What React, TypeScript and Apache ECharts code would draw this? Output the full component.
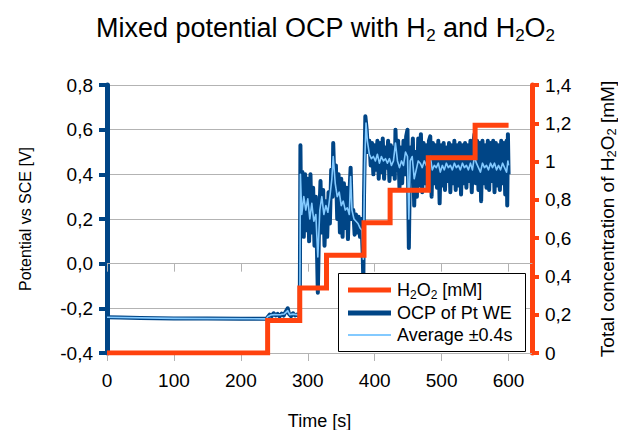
import React, { useEffect, useRef } from "react";
import * as echarts from "echarts";

const FONT = '"Liberation Sans", Arial, Helvetica, sans-serif';

// Axis ticks
const xTicks = [0, 100, 200, 300, 400, 500, 600];

// H2O2 additions (time [s] -> total concentration [mM])
const h2o2Time = [0, 240, 288, 328, 384, 423, 480, 550, 600];
const h2o2Conc = [0, 0.17, 0.34, 0.51, 0.68, 0.85, 1.02, 1.19, 1.19];

// OCP of Pt WE [time s, potential V]
const ocpPoints: [number, number][] = [
  [0, -0.24], [20, -0.241], [50, -0.243], [100, -0.245], [150, -0.246], [200, -0.247], [238, -0.247],
  [240, -0.24], [243, -0.228], [246, -0.235], [249, -0.222], [252, -0.232], [255, -0.225], [258, -0.236],
  [261, -0.224], [264, -0.233], [267, -0.215], [270, -0.2], [272, -0.225], [275, -0.235], [278, -0.222],
  [281, -0.232], [284, -0.228], [287, -0.235], [288, -0.23],
  [289, 0.53], [290, 0.2], [292, 0.41], [294, 0.12], [296, 0.4], [298, 0.15], [300, 0.38], [302, 0.1],
  [304, 0.4], [306, 0.14], [308, 0.34], [310, 0.08], [312, 0.3], [314, 0.02], [315, -0.13], [317, 0.2],
  [319, 0.37], [321, 0.14], [323, 0.33], [325, 0.08], [327, 0.28], [329, 0.12], [331, 0.32], [333, 0.18],
  [335, 0.42], [337, 0.3], [338, 0.54], [340, 0.34], [342, 0.44], [344, 0.2], [346, 0.4], [348, 0.14],
  [350, 0.38], [352, 0.12], [354, 0.36], [356, 0.16], [358, 0.34], [360, 0.11], [362, 0.3], [364, 0.43],
  [366, 0.2], [368, 0.24], [370, 0.13], [372, 0.22], [374, 0.14], [376, 0.21], [378, 0.12], [380, 0.2],
  [382, 0.05], [383, -0.08], [384, 0.3], [386, 0.66], [388, 0.6], [390, 0.5], [392, 0.55], [394, 0.44],
  [396, 0.54], [398, 0.4], [400, 0.53], [402, 0.42], [404, 0.55], [406, 0.38], [408, 0.54], [410, 0.41],
  [412, 0.56], [414, 0.38], [416, 0.52], [418, 0.43], [420, 0.55], [422, 0.37], [424, 0.53], [426, 0.4],
  [428, 0.52], [430, 0.38], [431, 0.6], [433, 0.42], [435, 0.55], [437, 0.34], [439, 0.52], [441, 0.36],
  [443, 0.55], [445, 0.4], [447, 0.57], [449, 0.6], [451, 0.07], [453, 0.52], [455, 0.42], [457, 0.56],
  [459, 0.26], [461, 0.5], [463, 0.3], [465, 0.56], [467, 0.35], [469, 0.58], [471, 0.32], [473, 0.54],
  [475, 0.36], [477, 0.53], [479, 0.33], [481, 0.55], [483, 0.57], [485, 0.3], [487, 0.54], [489, 0.36],
  [491, 0.53], [493, 0.34], [495, 0.55], [497, 0.27], [499, 0.53], [501, 0.35], [503, 0.54], [505, 0.33],
  [507, 0.52], [509, 0.37], [511, 0.54], [513, 0.32], [515, 0.53], [517, 0.36], [519, 0.55], [521, 0.33],
  [523, 0.53], [525, 0.35], [527, 0.54], [529, 0.31], [531, 0.53], [533, 0.36], [535, 0.54], [537, 0.34],
  [539, 0.53], [541, 0.37], [543, 0.55], [545, 0.32], [547, 0.53], [549, 0.58], [551, 0.36], [553, 0.55],
  [555, 0.33], [557, 0.54], [559, 0.28], [561, 0.55], [563, 0.36], [565, 0.53], [567, 0.34], [569, 0.55],
  [571, 0.33], [573, 0.54], [575, 0.37], [577, 0.55], [579, 0.32], [581, 0.54], [583, 0.35], [585, 0.53],
  [587, 0.33], [589, 0.55], [591, 0.36], [593, 0.54], [595, 0.31], [597, 0.55], [598, 0.26], [599, 0.58],
  [600, 0.4],
];

// Moving average ±0.4 s [time s, potential V]
const avgPoints: [number, number][] = [
  [0, -0.24], [100, -0.245], [238, -0.247],
  [240, -0.238], [245, -0.23], [250, -0.228], [255, -0.229], [260, -0.228], [265, -0.225], [270, -0.21],
  [273, -0.228], [278, -0.226], [283, -0.228], [287, -0.23], [288, -0.22],
  [289, 0.4], [291, 0.22], [294, 0.3], [297, 0.24], [300, 0.29], [303, 0.2], [306, 0.27], [309, 0.19],
  [312, 0.22], [315, 0.03], [318, 0.24], [321, 0.3], [324, 0.22], [327, 0.26], [330, 0.23], [333, 0.3],
  [336, 0.38], [338, 0.48], [341, 0.36], [344, 0.3], [347, 0.32], [350, 0.26], [353, 0.28], [356, 0.24],
  [359, 0.25], [362, 0.22], [364, 0.39], [366, 0.24], [369, 0.2], [372, 0.19], [375, 0.18], [378, 0.16],
  [381, 0.15], [383, 0.02], [385, 0.45], [387, 0.63], [389, 0.55], [392, 0.49], [395, 0.47], [398, 0.48],
  [401, 0.46], [404, 0.49], [407, 0.45], [410, 0.48], [413, 0.46], [416, 0.47], [419, 0.45], [422, 0.47],
  [425, 0.44], [428, 0.46], [431, 0.54], [434, 0.46], [437, 0.43], [440, 0.46], [443, 0.44], [446, 0.5],
  [449, 0.48], [451, 0.2], [453, 0.46], [456, 0.48], [459, 0.38], [462, 0.42], [465, 0.46], [468, 0.45],
  [471, 0.43], [474, 0.46], [477, 0.44], [480, 0.43], [483, 0.48], [486, 0.42], [489, 0.44], [492, 0.43],
  [495, 0.45], [498, 0.41], [501, 0.44], [504, 0.42], [507, 0.45], [510, 0.43], [513, 0.44], [516, 0.42],
  [519, 0.45], [522, 0.43], [525, 0.44], [528, 0.42], [531, 0.45], [534, 0.43], [537, 0.44], [540, 0.42],
  [543, 0.45], [546, 0.42], [549, 0.48], [552, 0.45], [555, 0.43], [558, 0.41], [561, 0.45], [564, 0.43],
  [567, 0.44], [570, 0.42], [573, 0.45], [576, 0.43], [579, 0.45], [582, 0.42], [585, 0.44], [588, 0.42],
  [591, 0.45], [594, 0.43], [597, 0.41], [599, 0.46], [600, 0.44],
];

const COLORS = { orange: "#ff420e", dark: "#004586", light: "#83caff", grid: "#b3b3b3" };

export default function App() {
  const ref = useRef<HTMLDivElement>(null);

  useEffect(() => {
    document.body.style.margin = "0";
    if (!ref.current) return;
    const chart = echarts.init(ref.current, undefined, { renderer: "svg" });

    const h2o2Data = h2o2Time.map((t, i) => [t, h2o2Conc[i]]);
    const xFmt = (v: number) => (v % 100 === 0 ? String(v) : "");
    const leftFmt = (v: number) => (Math.abs(v) < 1e-9 ? "0,0" : v.toFixed(1).replace(".", ","));
    const rightFmt = (v: number) => String(Math.round(v * 10) / 10).replace(".", ",");

    const xAxisBase = {
      type: "value",
      min: 0,
      max: 635,
      interval: 100,
      position: "bottom",
      splitLine: { show: false },
    };

    const option: any = {
      animation: false,
      backgroundColor: "#ffffff",
      title: {
        text: "Mixed potential OCP with H{s|2} and H{s|2}O{s|2}",
        left: 96,
        top: 11,
        padding: 0,
        textStyle: {
          fontFamily: FONT,
          fontSize: 27,
          fontWeight: "normal",
          color: "#000",
          lineHeight: 33,
          rich: {
            s: { fontFamily: FONT, fontSize: 17, lineHeight: 17, padding: [15, 0, 0, 0], color: "#000" },
          },
        },
      },
      grid: { left: 107, right: 86, top: 85, bottom: 77, containLabel: false, outerBoundsMode: "none" },
      xAxis: [
        {
          ...xAxisBase,
          axisLine: { show: true, onZero: false, lineStyle: { color: COLORS.grid, width: 1 } },
          axisTick: { show: true, length: 8, lineStyle: { color: COLORS.grid, width: 1 }, customValues: xTicks },
          axisLabel: {
            customValues: xTicks,
            formatter: xFmt,
            fontFamily: FONT,
            fontSize: 19,
            color: "#000",
            margin: 18,
          },
          name: "Time [s]",
          nameLocation: "middle",
          nameGap: 59,
          nameTextStyle: { fontFamily: FONT, fontSize: 18, color: "#000" },
        },
        {
          ...xAxisBase,
          axisLine: { show: true, onZero: true, onZeroAxisIndex: 0, lineStyle: { color: COLORS.grid, width: 1 } },
          axisTick: { show: true, length: 8, lineStyle: { color: COLORS.grid, width: 1 }, customValues: xTicks },
          axisLabel: { show: false },
        },
      ],
      yAxis: [
        {
          type: "value",
          min: -0.4,
          max: 0.8,
          interval: 0.2,
          position: "left",
          axisLine: { show: true, onZero: false, lineStyle: { color: COLORS.dark, width: 5 } },
          axisTick: { show: true, length: 8, lineStyle: { color: COLORS.dark, width: 4 } },
          axisLabel: { formatter: leftFmt, fontFamily: FONT, fontSize: 19, color: "#000", margin: 14 },
          splitLine: { show: true, lineStyle: { color: COLORS.grid, width: 1 } },
          name: "Potential vs SCE [V]",
          nameLocation: "middle",
          nameGap: 74,
          nameTextStyle: { fontFamily: FONT, fontSize: 16, color: "#000" },
        },
        {
          type: "value",
          min: 0,
          max: 1.4,
          interval: 0.2,
          position: "right",
          axisLine: { show: true, onZero: false, lineStyle: { color: COLORS.orange, width: 5 } },
          axisTick: { show: true, length: 7, lineStyle: { color: COLORS.orange, width: 4 } },
          axisLabel: { formatter: rightFmt, fontFamily: FONT, fontSize: 19, color: "#000", margin: 13 },
          splitLine: { show: false },
          name: "Total concentration of H{s|2}O{s|2} [mM]",
          nameLocation: "middle",
          nameGap: 66,
          nameTextStyle: {
            fontFamily: FONT,
            fontSize: 19,
            lineHeight: 19,
            color: "#000",
            rich: { s: { fontFamily: FONT, fontSize: 13, lineHeight: 11, padding: [8, 0, 0, 0], color: "#000" } },
          },
        },
      ],
      series: [
        {
          name: "OCP of Pt WE",
          type: "line",
          xAxisIndex: 0,
          yAxisIndex: 0,
          data: ocpPoints,
          showSymbol: false,
          symbol: "none",
          lineStyle: { color: COLORS.dark, width: 4, join: "round" },
          z: 2,
        },
        {
          name: "Average ±0.4s",
          type: "line",
          xAxisIndex: 0,
          yAxisIndex: 0,
          data: avgPoints,
          showSymbol: false,
          symbol: "none",
          lineStyle: { color: COLORS.light, width: 1.6, join: "round" },
          z: 3,
        },
        {
          name: "H2O2 [mM]",
          type: "line",
          xAxisIndex: 0,
          yAxisIndex: 1,
          data: h2o2Data,
          step: "end",
          showSymbol: false,
          symbol: "none",
          lineStyle: { color: COLORS.orange, width: 5, join: "miter" },
          z: 4,
        },
      ],
      graphic: [
        {
          type: "rect",
          z: 100,
          shape: { x: 338.5, y: 273.5, width: 187, height: 78 },
          style: { fill: "#fff", stroke: "#000", lineWidth: 1 },
        },
        {
          type: "line",
          z: 101,
          shape: { x1: 348, y1: 290, x2: 391, y2: 290 },
          style: { stroke: COLORS.orange, lineWidth: 5 },
        },
        {
          type: "line",
          z: 101,
          shape: { x1: 348, y1: 313, x2: 391, y2: 313 },
          style: { stroke: COLORS.dark, lineWidth: 5 },
        },
        {
          type: "line",
          z: 101,
          shape: { x1: 348, y1: 335, x2: 391, y2: 335 },
          style: { stroke: COLORS.light, lineWidth: 2 },
        },
        {
          type: "text",
          z: 101,
          x: 397,
          y: 290,
          style: {
            text: "H{s|2}O{s|2} [mM]",
            fontFamily: FONT,
            fontSize: 18,
            lineHeight: 22,
            fill: "#000",
            verticalAlign: "middle",
            rich: { s: { fontFamily: FONT, fontSize: 12, lineHeight: 12, padding: [10, 0, 0, 0], fill: "#000" } },
          },
        },
        {
          type: "text",
          z: 101,
          x: 397,
          y: 313,
          style: { text: "OCP of Pt WE", fontFamily: FONT, fontSize: 18, fill: "#000", verticalAlign: "middle" },
        },
        {
          type: "text",
          z: 101,
          x: 397,
          y: 335,
          style: { text: "Average ±0.4s", fontFamily: FONT, fontSize: 18, fill: "#000", verticalAlign: "middle" },
        },
      ],
    };

    chart.setOption(option);
    return () => chart.dispose();
  }, []);

  return <div ref={ref} style={{ width: 618, height: 430 }} />;
}
